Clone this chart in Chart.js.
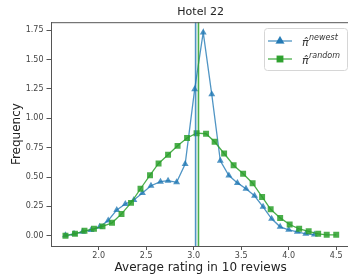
<!DOCTYPE html>
<html>
<head>
<meta charset="utf-8">
<script src="https://cdn.jsdelivr.net/npm/chart.js@4.4.0/dist/chart.umd.min.js"></script>
<style>
  html, body { margin: 0; padding: 0; overflow: hidden; background: #fff; }
  #wrap { width: 354px; height: 279px; }
</style>
</head>
<body>
<div id="wrap"><canvas id="hotel-chart"></canvas></div>
<script>
// values
const newestX = [1.65, 1.74, 1.83, 1.92, 2.01, 2.10, 2.19, 2.28, 2.37, 2.46,
  2.55, 2.65, 2.73, 2.82, 2.91, 3.01, 3.10, 3.19, 3.28, 3.37,
  3.46, 3.55, 3.64, 3.73, 3.82, 3.91, 4.00, 4.09, 4.18, 4.27];
const newestY = [0.004, 0.017, 0.034, 0.05, 0.076, 0.13, 0.22, 0.27, 0.305, 0.364,
  0.426, 0.46, 0.469, 0.455, 0.61, 1.246, 1.73, 1.203, 0.638, 0.513,
  0.45, 0.40, 0.34, 0.246, 0.144, 0.076, 0.051, 0.034, 0.017, 0.01];
const randomX = [1.65, 1.75, 1.85, 1.95, 2.04, 2.14, 2.24, 2.34, 2.44, 2.54,
  2.63, 2.73, 2.83, 2.93, 3.03, 3.13, 3.22, 3.32, 3.42, 3.52,
  3.62, 3.72, 3.81, 3.91, 4.01, 4.11, 4.21, 4.31, 4.40, 4.50];
const randomY = [0.0, 0.017, 0.042, 0.059, 0.08, 0.11, 0.186, 0.28, 0.40, 0.515,
  0.615, 0.69, 0.765, 0.832, 0.873, 0.868, 0.80, 0.70, 0.60, 0.527,
  0.447, 0.33, 0.225, 0.152, 0.096, 0.059, 0.038, 0.017, 0.008, 0.008];
const meanNewest = 3.02;
const meanRandom = 3.05;
const xTicks = [2.0, 2.5, 3.0, 3.5, 4.0, 4.5];
const yTicks = [0, 0.25, 0.5, 0.75, 1.0, 1.25, 1.5, 1.75];

const BLUE = 'rgba(31,119,180,0.78)';
const GREEN = 'rgba(44,160,44,0.85)';
const FONT = 'DejaVu Sans';

const pts = (xs, ys) => xs.map((x, i) => ({ x: x, y: ys[i] }));
const vline = x => [{ x: x, y: -1 }, { x: x, y: 3 }];

// top/right spines
const frame = {
  id: 'frame',
  afterDatasetsDraw(chart) {
    const { ctx, chartArea: a } = chart;
    ctx.save();
    ctx.strokeStyle = '#555';
    ctx.lineWidth = 1;
    ctx.beginPath();
    ctx.moveTo(a.left, a.top + 0.5);
    ctx.lineTo(a.right, a.top + 0.5);
    ctx.lineTo(a.right, a.bottom);
    ctx.stroke();
    ctx.restore();
  }
};

// legend with hat + superscript labels
const mathLegend = {
  id: 'mathLegend',
  afterDraw(chart) {
    const ctx = chart.ctx;
    ctx.save();
    const bx = 264, by = 28, bw = 83, bh = 42;
    ctx.fillStyle = 'rgba(255,255,255,0.85)';
    ctx.strokeStyle = '#d6d6d6';
    ctx.lineWidth = 1;
    ctx.beginPath();
    ctx.roundRect(bx + 0.5, by + 0.5, bw, bh, 3);
    ctx.fill();
    ctx.stroke();

    const rows = [
      { y: 41, color: BLUE, style: 'triangle', sup: 'newest' },
      { y: 59, color: GREEN, style: 'rect', sup: 'random' }
    ];
    rows.forEach(r => {
      ctx.strokeStyle = r.color;
      ctx.lineWidth = 1.3;
      ctx.beginPath();
      ctx.moveTo(268, r.y);
      ctx.lineTo(292, r.y);
      ctx.stroke();
      ctx.fillStyle = r.color;
      Chart.helpers.drawPoint(ctx, { pointStyle: r.style, radius: 4, borderWidth: 1 }, 280, r.y);
      ctx.fill();

      ctx.fillStyle = '#333';
      ctx.textBaseline = 'alphabetic';
      ctx.textAlign = 'left';
      ctx.font = 'italic 11px "' + FONT + '"';
      ctx.fillText('\u03c0\u0302', 302, r.y + 5);
      ctx.font = 'italic 8px "' + FONT + '"';
      ctx.fillText(r.sup, 309, r.y - 1);
    });
    ctx.restore();
  }
};

new Chart(document.getElementById('hotel-chart'), {
  type: 'line',
  data: {
    datasets: [
      {
        label: 'mean newest',
        data: vline(meanNewest),
        borderColor: BLUE,
        borderWidth: 1.6,
        pointRadius: 0,
        order: -2
      },
      {
        label: 'mean random',
        data: vline(meanRandom),
        borderColor: GREEN,
        borderWidth: 1.6,
        pointRadius: 0,
        order: -3
      },
      {
        label: 'newest',
        data: pts(newestX, newestY),
        borderColor: BLUE,
        backgroundColor: BLUE,
        borderWidth: 1.3,
        pointStyle: 'triangle',
        pointRadius: 4,
        pointBorderWidth: 0,
        order: 1
      },
      {
        label: 'random',
        data: pts(randomX, randomY),
        borderColor: GREEN,
        backgroundColor: GREEN,
        borderWidth: 1.3,
        pointStyle: 'rect',
        pointRadius: 4.2,
        pointBorderWidth: 0,
        order: 0
      }
    ]
  },
  options: {
    responsive: true,
    maintainAspectRatio: false,
    animation: false,
    devicePixelRatio: 1,
    layout: { padding: { left: 0, right: 1.5, top: 0, bottom: 0 } },
    plugins: {
      legend: { display: false },
      tooltip: { enabled: false },
      title: {
        display: true,
        text: 'Hotel 22',
        fullSize: false,
        color: '#222',
        font: { family: FONT, size: 11, weight: 'normal' },
        padding: { top: 6, bottom: 3 }
      }
    },
    scales: {
      x: {
        type: 'linear',
        min: 1.503,
        max: 4.643,
        afterBuildTicks: s => { s.ticks = xTicks.map(v => ({ value: v })); },
        afterFit: s => { s.height = 33; },
        grid: { drawOnChartArea: false, drawTicks: true, tickLength: 4, color: '#555' },
        border: { color: '#555', width: 1 },
        ticks: {
          color: '#444',
          padding: 1,
          maxRotation: 0,
          font: { family: FONT, size: 8 },
          callback: v => v.toFixed(1)
        },
        title: {
          display: true,
          text: 'Average rating in 10 reviews',
          color: '#222',
          font: { family: FONT, size: 12 },
          padding: { top: 0, bottom: 4 }
        }
      },
      y: {
        min: -0.087,
        max: 1.817,
        afterBuildTicks: s => { s.ticks = yTicks.map(v => ({ value: v })); },
        afterFit: s => { s.width = 51.5; },
        grid: { drawOnChartArea: false, drawTicks: true, tickLength: 5, color: '#555' },
        border: { color: '#555', width: 1 },
        ticks: {
          color: '#444',
          padding: 3,
          font: { family: FONT, size: 8 },
          callback: v => v.toFixed(2)
        },
        title: {
          display: true,
          text: 'Frequency',
          color: '#222',
          font: { family: FONT, size: 12 },
          padding: { top: 10, bottom: 0 }
        }
      }
    }
  },
  plugins: [frame, mathLegend]
});
</script>
</body>
</html>
